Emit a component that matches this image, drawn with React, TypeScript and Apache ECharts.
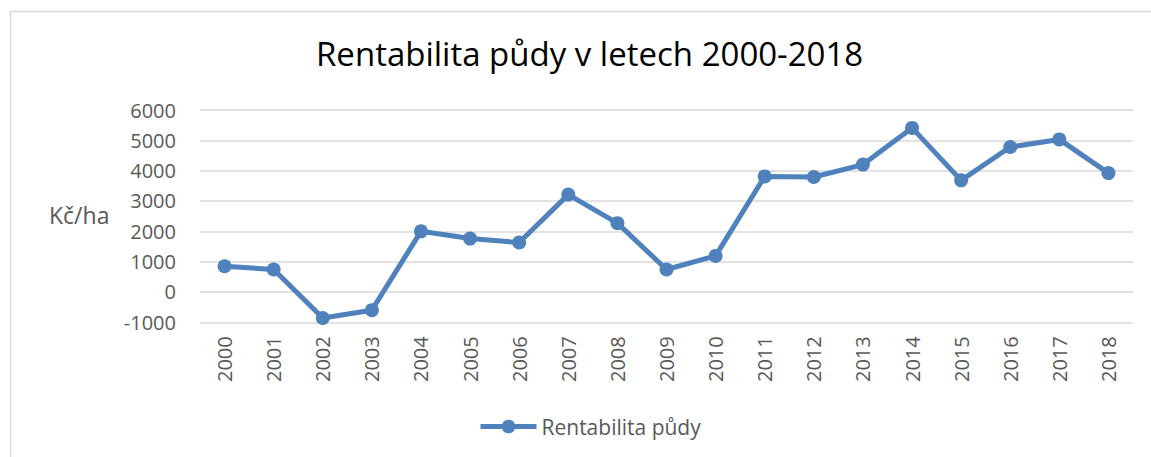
import React, { useEffect, useRef } from "react";
import * as echarts from "echarts";

const years = ["2000","2001","2002","2003","2004","2005","2006","2007","2008","2009","2010","2011","2012","2013","2014","2015","2016","2017","2018"];
const rentabilita = [850, 740, -860, -600, 2000, 1760, 1630, 3210, 2270, 740, 1190, 3810, 3790, 4200, 5410, 3680, 4780, 5030, 3920];
const seriesName = "Rentabilita půdy";
const titleText = "Rentabilita půdy v letech 2000-2018";
const yUnit = "Kč/ha";

export default function App() {
  const ref = useRef<HTMLDivElement>(null);
  useEffect(() => {
    const chart = echarts.init(ref.current!, null, { renderer: "svg" });
    const font = "'Open Sans', sans-serif";
    chart.setOption({
      animation: false,
      backgroundColor: "#ffffff",
      title: {
        text: titleText,
        left: 311,
        top: 32,
        textStyle: { fontFamily: font, fontSize: 33, fontWeight: "normal", color: "#000000" },
      },
      graphic: [
        {
          type: "rect",
          shape: { x: 10.5, y: 11.5, width: 1300, height: 600 },
          style: { fill: "none", stroke: "#d9d9d9", lineWidth: 1.5 },
          silent: true,
        },
        {
          type: "text",
          left: 49,
          top: 203,
          style: { text: yUnit, fontFamily: font, fontSize: 23, fill: "#595959" },
        },
      ],
      legend: {
        left: 473,
        top: 411,
        itemWidth: 56,
        itemHeight: 17,
        lineStyle: { width: 5 },
        textStyle: { fontFamily: font, fontSize: 21, color: "#595959" },
        data: [seriesName],
      },
      grid: { left: 200, right: 18, top: 110, bottom: 134.7 },
      xAxis: {
        type: "category",
        data: years,
        boundaryGap: true,
        axisLine: { show: false },
        axisTick: { show: false },
        axisLabel: { rotate: 90, margin: 14, fontFamily: font, fontSize: 20, color: "#595959" },
      },
      yAxis: {
        type: "value",
        min: -1000,
        max: 6000,
        interval: 1000,
        axisLine: { show: false },
        axisTick: { show: false },
        axisLabel: {
          margin: 24,
          fontFamily: font,
          fontSize: 20,
          color: "#595959",
          formatter: (v: number) => String(v),
        },
        splitLine: { lineStyle: { color: "#d9d9d9", width: 1.5 } },
      },
      series: [
        {
          name: seriesName,
          type: "line",
          data: rentabilita,
          symbol: "circle",
          symbolSize: 14,
          lineStyle: { color: "#4f81bd", width: 5 },
          itemStyle: { color: "#4f81bd" },
        },
      ],
    });
    return () => chart.dispose();
  }, []);
  return <div ref={ref} style={{ position: "absolute", left: 0, top: 0, width: 1151, height: 457 }} />;
}
